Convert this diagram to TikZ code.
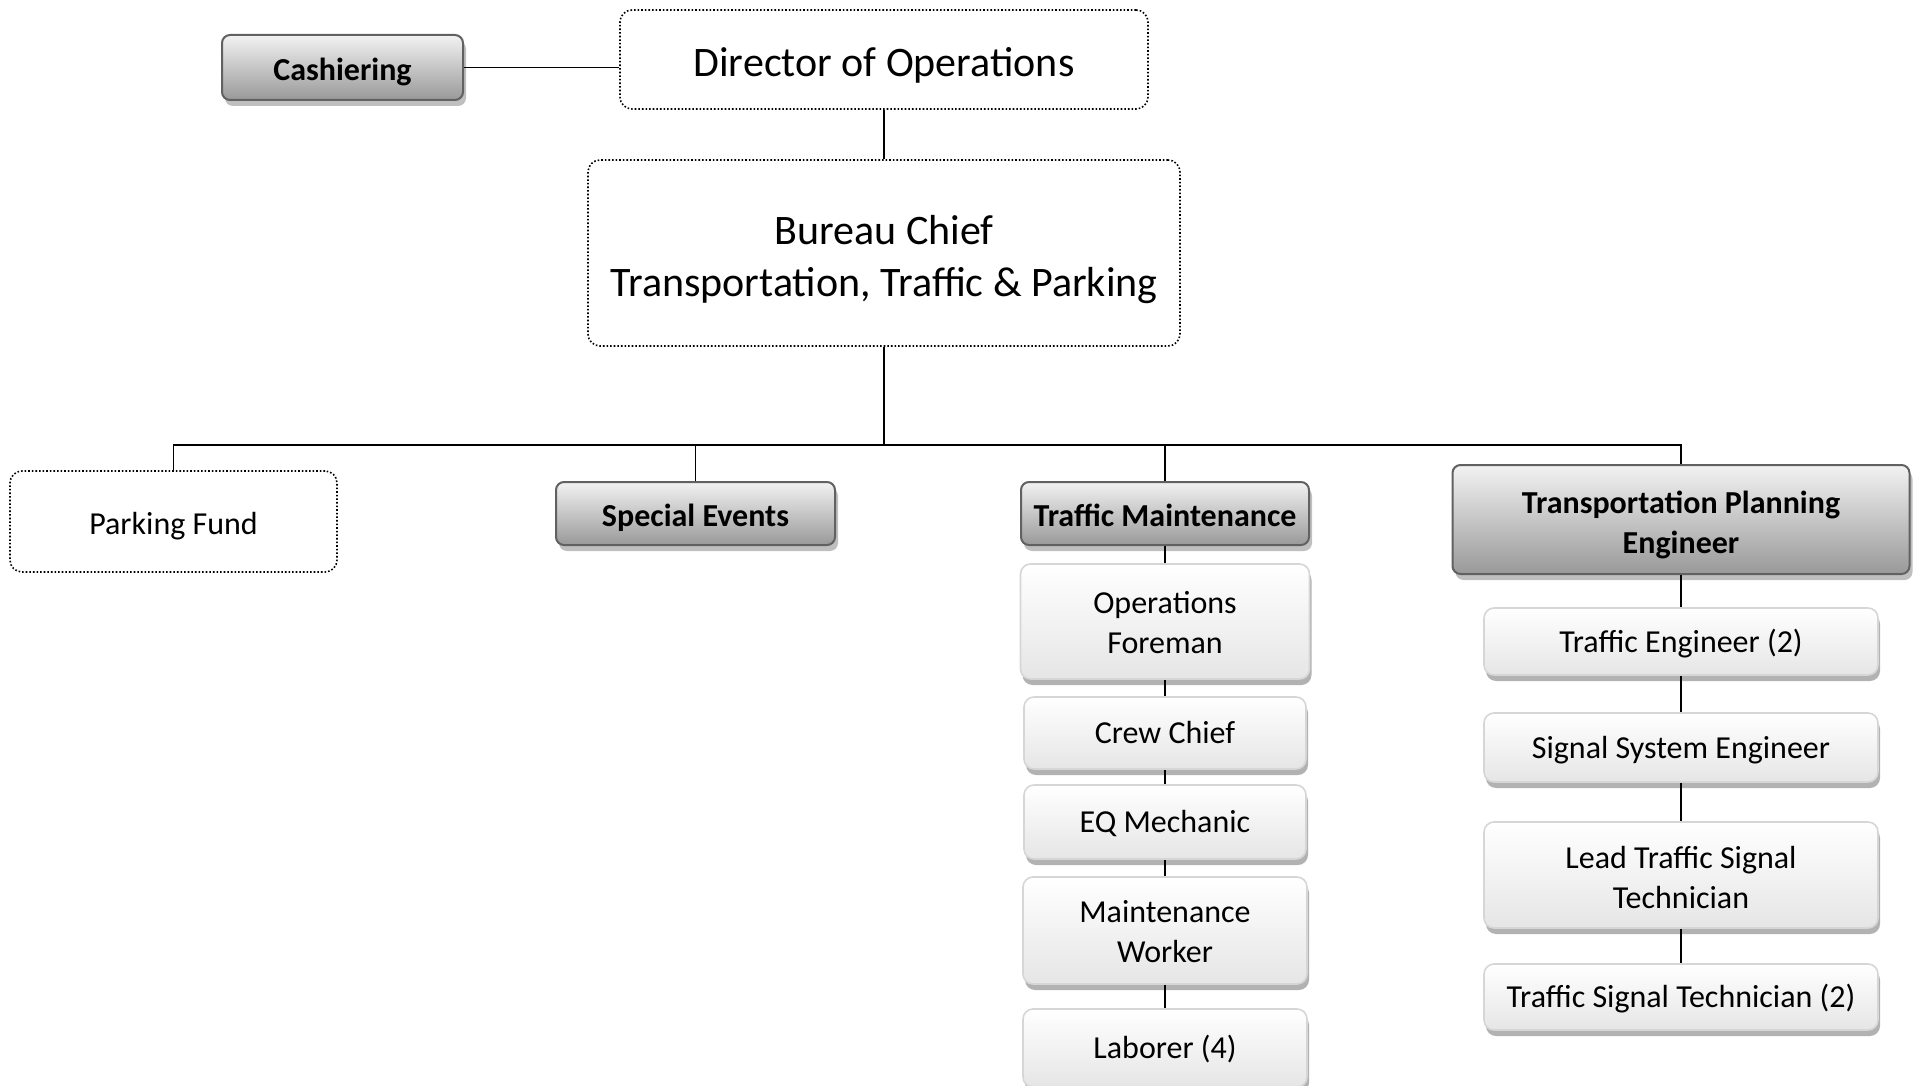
\documentclass[tikz,border=0pt]{standalone}
\usepackage{fontspec}
\setmainfont{Carlito}
\usetikzlibrary{shadows}
\newcommand\ws{\rule[-0.269em]{0pt}{1.221em}}
\newcommand\wsx[1]{\rule[-0.269em]{0pt}{#1em}}
\begin{document}
\begin{tikzpicture}[x=1pt,y=-1pt,
  conn/.style={draw=black, line width=1.8pt},
  dotbox/.style={draw=black, dotted, line width=1.6pt, rounded corners=12pt, fill=white, align=center, inner sep=0pt, font=\fontsize{32}{39.4}\selectfont},
  bigtext/.style={font=\fontsize{42}{51.8}\selectfont},
  graybox/.style={draw=black!62, line width=2pt, rounded corners=8pt, top color=black!5, bottom color=black!40, align=center, inner sep=0pt, font=\bfseries\fontsize{32}{39.4}\selectfont,
     drop shadow={shadow xshift=3pt, shadow yshift=-6pt, fill=black!25, opacity=1}},
  lightbox/.style={draw=black!16, line width=1.6pt, rounded corners=10pt, top color=white, bottom color=black!10, align=center, inner sep=0pt, font=\fontsize{32}{39.4}\selectfont,
     drop shadow={shadow xshift=2pt, shadow yshift=-6pt, fill=black!30, opacity=1}}
]
\useasboundingbox (0,0) rectangle (1915,1086);

% top
\node[dotbox, bigtext, minimum width=528pt, minimum height=99pt] (dir) at (884,59.5) {\wsx{1.37}Director of Operations};
\node[graybox, minimum width=241pt, minimum height=65pt] (cash) at (342.5,67.5) {\wsx{1.37}Cashiering};
\node[dotbox, bigtext, minimum width=592pt, minimum height=186pt] (bureau) at (884,253) {\wsx{1.37}Bureau Chief\\\ws Transportation, Traffic \& Parking};

% second level
\node[dotbox, minimum width=327pt, minimum height=101pt] (pf) at (173.5,521.5) {\wsx{1.37}Parking Fund};
\node[graybox, minimum width=279pt, minimum height=63pt] (se) at (695.5,513.5) {\wsx{1.37}Special Events};
\node[graybox, minimum width=288pt, minimum height=63pt] (tm) at (1165,513.5) {\wsx{1.37}Traffic Maintenance};
\node[graybox, minimum width=457pt, minimum height=109pt] (tpe) at (1681,519.5) {\wsx{1.41}Transportation Planning\\\ws Engineer};

% traffic maintenance chain
\node[lightbox, minimum width=289pt, minimum height=115pt] (of) at (1165,621.5) {\wsx{1.29}Operations\\\ws Foreman};
\node[lightbox, minimum width=282pt, minimum height=72pt] (cc) at (1165,733) {\ws Crew Chief};
\node[lightbox, minimum width=282pt, minimum height=74pt] (eq) at (1165,822) {\ws EQ Mechanic};
\node[lightbox, minimum width=284pt, minimum height=107pt] (mw) at (1165,930.5) {\wsx{1.29}Maintenance\\\ws Worker};
\node[lightbox, minimum width=284pt, minimum height=78pt] (lab) at (1165,1048) {\ws Laborer (4)};

% transportation planning chain
\node[lightbox, minimum width=394pt, minimum height=67pt] (te) at (1681,641.5) {\ws Traffic Engineer (2)};
\node[lightbox, minimum width=394pt, minimum height=69pt] (sse) at (1681,747.5) {\ws Signal System Engineer};
\node[lightbox, minimum width=394pt, minimum height=106pt] (ltst) at (1681,875) {\wsx{1.37}Lead Traffic Signal\\\ws Technician};
\node[lightbox, minimum width=394pt, minimum height=66pt] (tst) at (1681,997) {\ws Traffic Signal Technician (2)};

% connectors
\coordinate (bus) at (884,445);
\draw[conn] (cash.east) -- (cash.east -| dir.west);
\draw[conn] (dir.south) -- (bureau.north);
\draw[conn] (bureau.south) -- (bus);
\draw[conn] (pf.north) -- (pf.north |- bus) -- (tpe.north |- bus) -- (tpe.north);
\draw[conn] (se.north) -- (se.north |- bus);
\draw[conn] (tm.north) -- (tm.north |- bus);
\draw[conn] (tm.south) -- (of.north);
\draw[conn] (of.south) -- (cc.north);
\draw[conn] (cc.south) -- (eq.north);
\draw[conn] (eq.south) -- (mw.north);
\draw[conn] (mw.south) -- (lab.north);
\draw[conn] (tpe.south) -- (te.north);
\draw[conn] (te.south) -- (sse.north);
\draw[conn] (sse.south) -- (ltst.north);
\draw[conn] (ltst.south) -- (tst.north);
\end{tikzpicture}
\end{document}
